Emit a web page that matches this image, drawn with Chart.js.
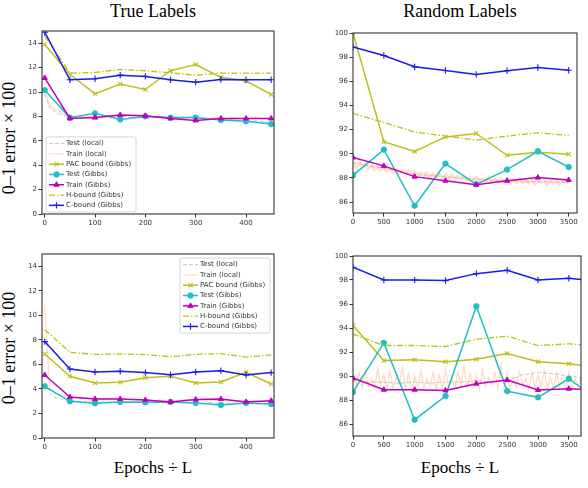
<!DOCTYPE html>
<html>
<head>
<meta charset="utf-8">
<script src="https://cdn.jsdelivr.net/npm/chart.js@4.4.0/dist/chart.umd.min.js"></script>
<style>
html,body{margin:0;padding:0;background:#fff;}
#fig{position:relative;width:588px;height:488px;overflow:hidden;background:#fff;}
.panel{position:absolute;}
.lbl{position:absolute;font-family:"Liberation Serif","DejaVu Serif",serif;font-size:18px;line-height:18px;color:#000;white-space:nowrap;}
.xlab{font-size:17px;line-height:17px;}
.ylab{width:200px;text-align:center;font-size:18px;line-height:18px;transform:rotate(-90deg);}
</style>
</head>
<body>
<div id="fig">
  <div class="lbl" style="left:153px;top:2px;transform:translateX(-50%)">True Labels</div>
  <div class="lbl" style="left:460px;top:2px;transform:translateX(-50%)">Random Labels</div>
  <div class="lbl ylab" style="left:-91px;top:129px">0–1 error × 100</div>
  <div class="lbl ylab" style="left:-91px;top:339px">0–1 error × 100</div>
  <div class="lbl xlab" style="left:153px;top:459px;transform:translateX(-50%)">Epochs ÷ L</div>
  <div class="lbl xlab" style="left:460px;top:459px;transform:translateX(-50%)">Epochs ÷ L</div>
  <canvas class="panel" id="tl" width="294" height="240" style="left:0;top:0"></canvas>
  <canvas class="panel" id="tr" width="294" height="240" style="left:294px;top:0"></canvas>
  <canvas class="panel" id="bl" width="294" height="248" style="left:0;top:240px"></canvas>
  <canvas class="panel" id="br" width="294" height="248" style="left:294px;top:240px"></canvas>
</div>
<script>
// ---- data ----
var labels = ['Test (local)', 'Train (local)', 'PAC bound (Gibbs)', 'Test (Gibbs)', 'Train (Gibbs)', 'H-bound (Gibbs)', 'C-bound (Gibbs)'];

var trueXTicks = [0, 100, 200, 300, 400];
var trueYTicks = [0, 2, 4, 6, 8, 10, 12, 14];
var randXTicks = [0, 500, 1000, 1500, 2000, 2500, 3000, 3500];
var randYTicks = [86, 88, 90, 92, 94, 96, 98, 100];

// gibbs evaluations
var trueEpochs = [0, 50, 100, 150, 200, 250, 300, 350, 400, 450];
var randEpochs = [0, 500, 1000, 1500, 2000, 2500, 3000, 3500];
var randEpochsB = [0, 500, 1000, 1500, 2000, 2500, 3000, 3500, 4000];

// top left: true labels
var tlPac   = [13.9, 11.45, 9.85, 10.65, 10.2, 11.75, 12.25, 11.2, 10.9, 9.8];
var tlTest  = [10.15, 7.9, 8.25, 7.75, 8.0, 7.9, 7.9, 7.7, 7.6, 7.37];
var tlTrain = [11.15, 7.83, 7.9, 8.12, 8.05, 7.83, 7.67, 7.83, 7.83, 7.83];
var tlH     = [14.6, 11.55, 11.6, 11.85, 11.74, 11.57, 11.38, 11.55, 11.55, 11.55];
var tlC     = [14.9, 11.0, 11.08, 11.38, 11.28, 11.0, 10.8, 11.03, 11.0, 11.0];
// local curves, one value every 10 epochs
var tlTestLocal  = [9.8, 8.7, 8.4, 8.2, 8.1, 8.0, 7.95, 8.0, 7.9, 7.95, 8.0, 7.9, 7.95, 8.0, 7.9, 7.95, 8.0, 7.9, 7.9, 7.95, 7.9, 7.85, 7.9, 7.95, 7.9, 7.85, 7.9, 7.8, 7.85, 7.9, 7.8, 7.85, 7.8, 7.75, 7.8, 7.75, 7.7, 7.75, 7.7, 7.65, 7.7, 7.6, 7.65, 7.6, 7.55, 7.5];
var tlTrainLocal = [10.2, 8.9, 8.6, 8.4, 8.2, 8.1, 8.0, 8.05, 7.95, 8.0, 8.05, 7.9, 8.0, 8.1, 7.95, 8.0, 8.15, 8.05, 7.95, 8.0, 8.1, 8.0, 7.9, 8.0, 7.95, 7.9, 8.0, 7.85, 7.9, 7.95, 7.8, 7.9, 7.85, 7.8, 7.9, 7.85, 7.8, 7.9, 7.85, 7.8, 7.85, 7.8, 7.9, 7.8, 7.85, 7.8];

// bottom left: true labels
var blPac   = [6.85, 5.03, 4.48, 4.54, 4.92, 5.03, 4.48, 4.57, 5.35, 4.4];
var blTest  = [4.21, 2.99, 2.83, 2.94, 2.91, 2.94, 2.85, 2.69, 2.85, 2.77];
var blTrain = [5.14, 3.34, 3.18, 3.18, 3.1, 2.94, 3.13, 3.18, 2.94, 3.04];
var blH     = [8.83, 6.99, 6.82, 6.85, 6.8, 6.63, 6.82, 6.88, 6.6, 6.77];
var blC     = [7.86, 5.63, 5.38, 5.44, 5.33, 5.16, 5.38, 5.49, 5.14, 5.33];
var blTestLocal  = [4.6, 3.7, 3.3, 3.2, 3.1, 3.05, 3.0, 3.0, 2.95, 3.0, 2.95, 2.9, 2.95, 2.9, 2.95, 2.9, 2.85, 2.9, 2.95, 2.9, 2.85, 2.9, 2.85, 2.9, 2.85, 2.9, 2.95, 2.9, 2.85, 2.9, 2.85, 2.8, 2.85, 2.9, 2.85, 2.8, 2.85, 2.8, 2.85, 2.8, 2.85, 2.8, 2.75, 2.8, 2.85, 2.8];
var blTrainLocal = [10.8, 4.0, 3.6, 3.45, 3.4, 3.35, 3.3, 3.25, 3.3, 3.2, 3.25, 3.2, 3.15, 3.2, 3.25, 3.15, 3.2, 3.1, 3.15, 3.1, 3.15, 3.1, 3.05, 3.1, 3.05, 3.1, 3.05, 3.1, 3.15, 3.1, 3.05, 3.1, 3.0, 3.05, 3.1, 3.0, 3.05, 3.0, 3.05, 3.0, 2.95, 3.0, 3.05, 3.0, 2.95, 3.0];

// top right: random labels
var trPac   = [100.0, 91.0, 90.2, 91.4, 91.68, 89.88, 90.13, 89.96];
var trTest  = [88.22, 90.35, 85.7, 89.19, 87.47, 88.69, 90.21, 88.91];
var trTrain = [89.69, 89.0, 88.11, 87.77, 87.44, 87.77, 88.03, 87.83];
var trH     = [93.35, 92.6, 91.8, 91.46, 91.13, 91.46, 91.74, 91.52];
var trC     = [98.84, 98.14, 97.2, 96.9, 96.56, 96.87, 97.14, 96.92];
// local test every 250 epochs, local train every 50 epochs
var trTestLocal  = [89.3, 89.0, 88.8, 88.5, 88.3, 88.2, 88.1, 88.0, 87.9, 87.8, 87.8, 87.7, 87.7, 87.7, 87.6];
var trTrainLocal = [89.2, 88.9, 89.3, 88.9, 89.1, 88.8, 89.0, 88.7, 89.0, 88.7, 88.9, 88.6, 88.8, 88.5, 88.7, 88.4, 88.6, 88.4, 88.6, 88.3, 88.5, 88.2, 88.4, 88.2, 88.4, 88.1, 88.3, 88.1, 88.3, 88.0, 88.2, 88.0, 88.2, 87.9, 88.1, 87.9, 88.1, 87.8, 88.0, 87.8, 88.0, 87.7, 87.9, 87.7, 88.0, 87.7, 87.9, 87.7, 87.9, 87.6, 87.9, 87.6, 87.8, 87.6, 87.9, 87.6, 87.8, 87.6, 87.8, 87.5, 87.8, 87.6, 87.8, 87.5, 87.8, 87.6, 87.8, 87.5, 87.8, 87.6, 87.7];

// bottom right: random labels
var brPac   = [94.2, 91.3, 91.35, 91.18, 91.4, 91.88, 91.18, 91.02, 90.7];
var brTest  = [88.66, 92.76, 86.36, 88.33, 95.81, 88.74, 88.22, 89.77, 87.9];
var brTrain = [89.83, 88.86, 88.86, 88.8, 89.36, 89.66, 88.83, 88.94, 88.85];
var brH     = [93.5, 92.54, 92.54, 92.46, 93.07, 93.32, 92.54, 92.68, 92.5];
var brC     = [99.06, 98.0, 98.0, 97.95, 98.53, 98.81, 98.0, 98.14, 97.87];
var brTestLocal  = [89.6, 89.5, 89.5, 89.4, 89.5, 89.4, 89.5, 89.5, 89.6, 89.5, 89.6, 90.1, 90.3, 90.2, 90.0, 89.8];
var brTrainLocal = [89.9, 89.2, 90.3, 89.0, 90.5, 89.1, 89.8, 88.9, 90.6, 89.2,
                    90.1, 88.9, 90.4, 89.0, 89.9, 89.3, 90.7, 89.0, 90.2, 88.8,
                    90.0, 89.1, 90.5, 89.0, 89.8, 89.2, 90.3, 88.9, 90.1, 89.0,
                    90.6, 89.1, 89.9, 88.9, 90.4, 89.2, 90.8, 89.0, 90.2, 89.1,
                    90.0, 88.9, 90.5, 89.1, 89.9, 89.3, 90.3, 89.0, 90.9, 89.1,
                    90.2, 88.9, 90.0, 89.0, 90.4, 89.2, 89.8, 88.9, 90.3, 89.0,
                    90.1, 89.1, 90.5, 88.9, 89.9, 89.0, 90.2, 89.1, 90.0, 88.9,
                    90.3, 89.0, 89.8, 89.1, 90.0];

// ---- styles ----
var YEL = '#bfbf1a', CYA = '#1fbfc4', MAG = '#bf00bf', BLU = '#1a1af0';

function pts(xs, ys){
  return ys.map(function(v, i){ return {x: xs[i], y: v}; });
}
function stepPts(step, ys){
  return ys.map(function(v, i){ return {x: i*step, y: v}; });
}

function makeSets(p){
  var sets = [
    {data: p.testLocal, borderColor: 'rgba(150,150,150,0.55)', borderWidth: 1, borderDash: [4, 2], pointRadius: 0},
    {data: p.trainLocal, borderColor: p.trainC, borderWidth: p.trainW, pointRadius: 0},
    {data: p.pac, borderColor: YEL, borderWidth: 1.5, pointStyle: 'crossRot', pointRadius: 3, pointBorderColor: YEL, pointBackgroundColor: YEL, pointBorderWidth: 1.1},
    {data: p.test, borderColor: CYA, borderWidth: 1.5, pointStyle: 'circle', pointRadius: 2.7, pointBorderColor: CYA, pointBackgroundColor: CYA, pointBorderWidth: 1},
    {data: p.train, borderColor: MAG, borderWidth: 1.5, pointStyle: 'triangle', pointRadius: 3, pointBorderColor: MAG, pointBackgroundColor: MAG, pointBorderWidth: 1},
    {data: p.hb, borderColor: YEL, borderWidth: 1.3, borderDash: [6, 2, 1.5, 2], pointRadius: 0},
    {data: p.cb, borderColor: BLU, borderWidth: 1.5, pointStyle: 'cross', pointRadius: 3.2, pointBorderColor: BLU, pointBackgroundColor: BLU, pointBorderWidth: 1.1}
  ];
  sets.forEach(function(s, i){
    s.label = labels[i];
    s.order = 10 - i;   // later series on top, like matplotlib
    s.tension = 0;
    s.fill = false;
  });
  return sets;
}

var frame = {
  id: 'frame',
  afterDraw: function(chart){
    var a = chart.chartArea, ctx = chart.ctx;
    ctx.save();
    ctx.strokeStyle = '#333';
    ctx.lineWidth = 1.1;
    ctx.strokeRect(a.left, a.top, a.right - a.left, a.bottom - a.top);
    ctx.restore();
  }
};

var innerLegend = {
  id: 'innerLegend',
  afterDraw: function(chart, args, opts){
    if(!opts.corner) return;
    var a = chart.chartArea, ctx = chart.ctx;
    var sets = chart.data.datasets;
    var w = 90, rowH = 10.3, h = sets.length*rowH + 3;
    var x0 = opts.corner == 'll' ? a.left + 4 : a.right - w - 4;
    var y0 = opts.corner == 'll' ? a.bottom - h - 2 : a.top + 4;
    ctx.save();
    ctx.fillStyle = 'rgba(255,255,255,0.85)';
    ctx.strokeStyle = '#d6d6d6';
    ctx.lineWidth = 1;
    ctx.beginPath();
    ctx.roundRect(x0, y0, w, h, 2);
    ctx.fill();
    ctx.stroke();
    ctx.font = '7px "DejaVu Sans"';
    ctx.textBaseline = 'middle';
    sets.forEach(function(ds, i){
      var y = y0 + 1.5 + rowH*(i + 0.5);
      ctx.strokeStyle = ds.borderColor;
      ctx.lineWidth = Math.min(ds.borderWidth, 1.5);
      ctx.setLineDash(ds.borderDash || []);
      ctx.beginPath();
      ctx.moveTo(x0 + 3, y);
      ctx.lineTo(x0 + 18, y);
      ctx.stroke();
      ctx.setLineDash([]);
      if(ds.pointRadius > 0){
        ctx.strokeStyle = ds.pointBorderColor;
        ctx.fillStyle = ds.pointBackgroundColor;
        ctx.lineWidth = ds.pointBorderWidth;
        Chart.helpers.drawPoint(ctx, {pointStyle: ds.pointStyle, radius: ds.pointRadius, rotation: 0, borderWidth: ds.pointBorderWidth}, x0 + 10.5, y);
      }
      ctx.fillStyle = '#333';
      ctx.fillText(ds.label, x0 + 20, y);
    });
    ctx.restore();
  }
};

function axis(min, max, ticks, fitKey, fitVal){
  return {
    type: 'linear',
    min: min,
    max: max,
    afterBuildTicks: function(scale){
      scale.ticks = ticks.map(function(v){ return {value: v}; });
    },
    afterFit: function(scale){
      scale[fitKey] = fitVal;
    },
    grid: {display: true, drawOnChartArea: false, drawTicks: true, tickLength: 3.5, color: '#333', lineWidth: 1},
    border: {display: false},
    ticks: {
      color: '#333',
      padding: 1.5,
      maxRotation: 0,
      autoSkip: false,
      font: {family: 'DejaVu Sans', size: 7},
      callback: function(v){ return String(v); }
    }
  };
}

function draw(id, p){
  var ctx = document.getElementById(id).getContext('2d');
  return new Chart(ctx, {
    type: 'line',
    data: {datasets: makeSets(p)},
    options: {
      responsive: false,
      animation: false,
      parsing: false,
      layout: {padding: {top: p.padTop, right: p.padRight, left: 0, bottom: 0}},
      scales: {
        x: axis(p.xmin, p.xmax, p.xticks, 'height', p.xh),
        y: axis(p.ymin, p.ymax, p.yticks, 'width', p.yw)
      },
      plugins: {
        legend: {display: false},
        tooltip: {enabled: false},
        innerLegend: {corner: p.corner}
      }
    },
    plugins: [frame, innerLegend]
  });
}

var peach = 'rgba(255,170,120,0.45)';

draw('tl', {
  testLocal: stepPts(10, tlTestLocal), trainLocal: stepPts(10, tlTrainLocal), trainW: 1.2, trainC: peach,
  pac: pts(trueEpochs, tlPac), test: pts(trueEpochs, tlTest), train: pts(trueEpochs, tlTrain),
  hb: pts(trueEpochs, tlH), cb: pts(trueEpochs, tlC),
  xmin: -5.4, xmax: 455.6, xticks: trueXTicks, ymin: 0, ymax: 15, yticks: trueYTicks,
  padTop: 31, padRight: 20, yw: 42, xh: 26, corner: 'll'
});
draw('tr', {
  testLocal: stepPts(250, trTestLocal), trainLocal: stepPts(50, trTrainLocal), trainW: 3.5, trainC: 'rgba(255,170,120,0.35)',
  pac: pts(randEpochs, trPac), test: pts(randEpochs, trTest), train: pts(randEpochs, trTrain),
  hb: pts(randEpochs, trH), cb: pts(randEpochs, trC),
  xmin: 0, xmax: 3635, xticks: randXTicks, ymin: 85.1, ymax: 100, yticks: randYTicks,
  padTop: 33, padRight: 11, yw: 59, xh: 27, corner: null
});
draw('bl', {
  testLocal: stepPts(10, blTestLocal), trainLocal: stepPts(10, blTrainLocal), trainW: 1.2, trainC: peach,
  pac: pts(trueEpochs, blPac), test: pts(trueEpochs, blTest), train: pts(trueEpochs, blTrain),
  hb: pts(trueEpochs, blH), cb: pts(trueEpochs, blC),
  xmin: -5.4, xmax: 455.6, xticks: trueXTicks, ymin: 0, ymax: 15, yticks: trueYTicks,
  padTop: 14, padRight: 20, yw: 42, xh: 50, corner: 'ur'
});
draw('br', {
  testLocal: stepPts(250, brTestLocal), trainLocal: stepPts(50, brTrainLocal), trainW: 1.2, trainC: peach,
  pac: pts(randEpochsB, brPac), test: pts(randEpochsB, brTest), train: pts(randEpochsB, brTrain),
  hb: pts(randEpochsB, brH), cb: pts(randEpochsB, brC),
  xmin: 0, xmax: 3697, xticks: randXTicks, ymin: 85, ymax: 100, yticks: randYTicks,
  padTop: 16, padRight: 7, yw: 59, xh: 52, corner: null
});
</script>
</body>
</html>
